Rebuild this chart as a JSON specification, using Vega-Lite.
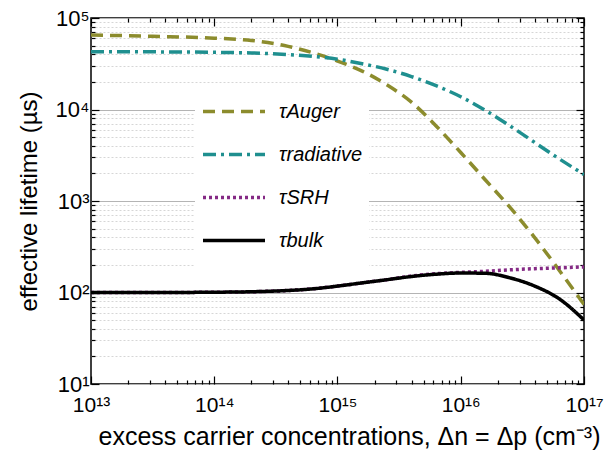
{
  "$schema": "https://vega.github.io/schema/vega-lite/v6.json",
  "width": 493,
  "height": 366,
  "autosize": "none",
  "padding": {"left": 91, "top": 18, "right": 21, "bottom": 73},
  "background": "white",
  "config": {
    "font": "Liberation Sans",
    "view": {"stroke": "black", "strokeWidth": 1.5},
    "axis": {"labelColor": "black", "titleColor": "black", "tickColor": "black", "domain": false, "titleFontWeight": "normal"}
  },
  "data": {
    "values": [
      {"n": 1e13, "tau": 65160, "series": "Auger"},
      {"n": 3.162e13, "tau": 63100, "series": "Auger"},
      {"n": 1e14, "tau": 60260, "series": "Auger"},
      {"n": 1.995e14, "tau": 56890, "series": "Auger"},
      {"n": 3.981e14, "tau": 48980, "series": "Auger"},
      {"n": 6.31e14, "tau": 41690, "series": "Auger"},
      {"n": 1e15, "tau": 33880, "series": "Auger"},
      {"n": 1.585e15, "tau": 26300, "series": "Auger"},
      {"n": 2.512e15, "tau": 18620, "series": "Auger"},
      {"n": 3.981e15, "tau": 12020, "series": "Auger"},
      {"n": 6.31e15, "tau": 6607, "series": "Auger"},
      {"n": 1e16, "tau": 3388, "series": "Auger"},
      {"n": 1.585e16, "tau": 1698, "series": "Auger"},
      {"n": 2.512e16, "tau": 851, "series": "Auger"},
      {"n": 3.981e16, "tau": 398, "series": "Auger"},
      {"n": 6.31e16, "tau": 174, "series": "Auger"},
      {"n": 1e17, "tau": 74, "series": "Auger"},
      {"n": 1e13, "tau": 42850, "series": "radiative"},
      {"n": 3.162e13, "tau": 42660, "series": "radiative"},
      {"n": 1e14, "tau": 42170, "series": "radiative"},
      {"n": 1.995e14, "tau": 41500, "series": "radiative"},
      {"n": 3.981e14, "tau": 39810, "series": "radiative"},
      {"n": 6.31e14, "tau": 38020, "series": "radiative"},
      {"n": 1e15, "tau": 35480, "series": "radiative"},
      {"n": 1.585e15, "tau": 31620, "series": "radiative"},
      {"n": 2.512e15, "tau": 27540, "series": "radiative"},
      {"n": 3.981e15, "tau": 22910, "series": "radiative"},
      {"n": 6.31e15, "tau": 18200, "series": "radiative"},
      {"n": 1e16, "tau": 13800, "series": "radiative"},
      {"n": 1.585e16, "tau": 9772, "series": "radiative"},
      {"n": 2.512e16, "tau": 6607, "series": "radiative"},
      {"n": 3.981e16, "tau": 4365, "series": "radiative"},
      {"n": 6.31e16, "tau": 2884, "series": "radiative"},
      {"n": 1e17, "tau": 1950, "series": "radiative"},
      {"n": 1e13, "tau": 100, "series": "SRH"},
      {"n": 3.162e13, "tau": 100, "series": "SRH"},
      {"n": 1e14, "tau": 100.7, "series": "SRH"},
      {"n": 1.995e14, "tau": 101.9, "series": "SRH"},
      {"n": 3.981e14, "tau": 105.2, "series": "SRH"},
      {"n": 6.31e14, "tau": 109.6, "series": "SRH"},
      {"n": 1e15, "tau": 117.5, "series": "SRH"},
      {"n": 1.585e15, "tau": 127.4, "series": "SRH"},
      {"n": 2.512e15, "tau": 138.2, "series": "SRH"},
      {"n": 3.981e15, "tau": 151.4, "series": "SRH"},
      {"n": 6.31e15, "tau": 160.3, "series": "SRH"},
      {"n": 1e16, "tau": 166, "series": "SRH"},
      {"n": 1.585e16, "tau": 170.6, "series": "SRH"},
      {"n": 2.512e16, "tau": 177, "series": "SRH"},
      {"n": 3.981e16, "tau": 182, "series": "SRH"},
      {"n": 6.31e16, "tau": 186, "series": "SRH"},
      {"n": 1e17, "tau": 190.5, "series": "SRH"},
      {"n": 1e13, "tau": 100, "series": "bulk"},
      {"n": 3.162e13, "tau": 100, "series": "bulk"},
      {"n": 1e14, "tau": 100.7, "series": "bulk"},
      {"n": 1.995e14, "tau": 101.9, "series": "bulk"},
      {"n": 3.981e14, "tau": 105.2, "series": "bulk"},
      {"n": 6.31e14, "tau": 109.6, "series": "bulk"},
      {"n": 1e15, "tau": 117.5, "series": "bulk"},
      {"n": 1.585e15, "tau": 127.4, "series": "bulk"},
      {"n": 2.512e15, "tau": 138, "series": "bulk"},
      {"n": 3.981e15, "tau": 149.6, "series": "bulk"},
      {"n": 6.31e15, "tau": 158.5, "series": "bulk"},
      {"n": 1e16, "tau": 163.3, "series": "bulk"},
      {"n": 1.585e16, "tau": 162.2, "series": "bulk"},
      {"n": 2.512e16, "tau": 144.5, "series": "bulk"},
      {"n": 3.981e16, "tau": 117.5, "series": "bulk"},
      {"n": 6.31e16, "tau": 85.1, "series": "bulk"},
      {"n": 1e17, "tau": 50.1, "series": "bulk"}
    ]
  },
  "resolve": {"axis": {"x": "independent", "y": "independent"}},
  "layer": [
    {
      "mark": {"type": "line", "strokeWidth": 3.5, "interpolate": "monotone", "clip": true},
      "encoding": {
        "x": {
          "field": "n", "type": "quantitative",
          "scale": {"type": "log", "domain": [1e13, 1e17], "nice": false},
          "axis": {
            "orient": "bottom",
            "values": [1e13, 2e13, 3e13, 4e13, 5e13, 6e13, 7e13, 8e13, 9e13, 1e14, 2e14, 3e14, 4e14, 5e14, 6e14, 7e14, 8e14, 9e14, 1e15, 2e15, 3e15, 4e15, 5e15, 6e15, 7e15, 8e15, 9e15, 1e16, 2e16, 3e16, 4e16, 5e16, 6e16, 7e16, 8e16, 9e16, 1e17],
            "labelExpr": "abs(log(datum.value)/LN10 - round(log(datum.value)/LN10)) < 0.001 ? '10¹' + substring('⁰¹²³⁴⁵⁶⁷⁸⁹', round(log(datum.value)/LN10) - 10, round(log(datum.value)/LN10) - 9) : ''",
            "labelFontSize": 21,
            "labelFlush": false,
            "labelOverlap": false,
            "labelBound": false,
            "labelPadding": 18,
            "tickSize": {"condition": {"test": "abs(log(datum.value)/LN10 - round(log(datum.value)/LN10)) < 0.001", "value": -8}, "value": -4},
            "tickWidth": 1.2,
            "grid": false,
            "title": "excess carrier concentrations,  Δn = Δp (cm⁻³)",
            "titleFontSize": 25,
            "titleX": 258,
            "titlePadding": 5
          }
        },
        "y": {
          "field": "tau", "type": "quantitative",
          "scale": {"type": "log", "domain": [10, 100000], "nice": false},
          "axis": {
            "orient": "left",
            "values": [10, 20, 30, 40, 50, 60, 70, 80, 90, 100, 200, 300, 400, 500, 600, 700, 800, 900, 1000, 2000, 3000, 4000, 5000, 6000, 7000, 8000, 9000, 10000, 20000, 30000, 40000, 50000, 60000, 70000, 80000, 90000, 100000],
            "labelExpr": "abs(log(datum.value)/LN10 - round(log(datum.value)/LN10)) < 0.001 ? '10' + substring('⁰¹²³⁴⁵⁶⁷⁸⁹', round(log(datum.value)/LN10), round(log(datum.value)/LN10) + 1) : ''",
            "labelFontSize": 22,
            "labelFlush": false,
            "labelOverlap": false,
            "labelBound": false,
            "labelPadding": 10,
            "tickSize": {"condition": {"test": "abs(log(datum.value)/LN10 - round(log(datum.value)/LN10)) < 0.001", "value": -8}, "value": -4},
            "tickWidth": 1.2,
            "grid": true,
            "gridColor": {"condition": {"test": "abs(log(datum.value)/LN10 - round(log(datum.value)/LN10)) < 0.001", "value": "#b4b4b4"}, "value": "#d6d6d6"},
            "gridDash": {"condition": {"test": "abs(log(datum.value)/LN10 - round(log(datum.value)/LN10)) < 0.001", "value": []}, "value": [2, 2]},
            "gridWidth": 1,
            "title": "effective lifetime (µs)",
            "titleFontSize": 24,
            "titlePadding": 14
          }
        },
        "color": {
          "field": "series", "type": "nominal",
          "scale": {"domain": ["Auger", "radiative", "SRH", "bulk"], "range": ["#8c8c2d", "#1f8f8f", "#852a85", "#000000"]},
          "legend": {
            "orient": "none",
            "legendX": 104,
            "legendY": 66,
            "title": null,
            "fillColor": "white",
            "padding": 6,
            "symbolType": "stroke",
            "symbolSize": 3844,
            "symbolStrokeWidth": 3.5,
            "clipHeight": 43,
            "rowPadding": 0,
            "labelExpr": "'τ' + datum.label",
            "labelFontSize": 20,
            "labelFontStyle": "italic",
            "labelOffset": 12,
            "labelColor": "black"
          }
        },
        "strokeDash": {
          "field": "series", "type": "nominal",
          "scale": {"domain": ["Auger", "radiative", "SRH", "bulk"], "range": [[12, 7], [13, 5, 3, 5], [3, 3], [1, 0]]},
          "legend": {
            "orient": "none",
            "legendX": 104,
            "legendY": 66,
            "title": null,
            "fillColor": "white",
            "padding": 6,
            "symbolType": "stroke",
            "symbolSize": 3844,
            "symbolStrokeWidth": 3.5,
            "clipHeight": 43,
            "rowPadding": 0,
            "labelExpr": "'τ' + datum.label",
            "labelFontSize": 20,
            "labelFontStyle": "italic",
            "labelOffset": 12,
            "labelColor": "black"
          }
        },
        "order": {"field": "n", "type": "quantitative"}
      }
    },
    {
      "mark": {"type": "point", "opacity": 0},
      "encoding": {
        "x": {
          "field": "n", "type": "quantitative",
          "scale": {"type": "log", "domain": [1e13, 1e17], "nice": false},
          "axis": {
            "orient": "top",
            "values": [1e13, 2e13, 3e13, 4e13, 5e13, 6e13, 7e13, 8e13, 9e13, 1e14, 2e14, 3e14, 4e14, 5e14, 6e14, 7e14, 8e14, 9e14, 1e15, 2e15, 3e15, 4e15, 5e15, 6e15, 7e15, 8e15, 9e15, 1e16, 2e16, 3e16, 4e16, 5e16, 6e16, 7e16, 8e16, 9e16, 1e17],
            "labels": false,
            "title": null,
            "grid": false,
            "tickSize": {"condition": {"test": "abs(log(datum.value)/LN10 - round(log(datum.value)/LN10)) < 0.001", "value": -8}, "value": -4},
            "tickWidth": 1.2
          }
        },
        "y": {
          "field": "tau", "type": "quantitative",
          "scale": {"type": "log", "domain": [10, 100000], "nice": false},
          "axis": {
            "orient": "right",
            "values": [10, 20, 30, 40, 50, 60, 70, 80, 90, 100, 200, 300, 400, 500, 600, 700, 800, 900, 1000, 2000, 3000, 4000, 5000, 6000, 7000, 8000, 9000, 10000, 20000, 30000, 40000, 50000, 60000, 70000, 80000, 90000, 100000],
            "labels": false,
            "title": null,
            "grid": false,
            "tickSize": {"condition": {"test": "abs(log(datum.value)/LN10 - round(log(datum.value)/LN10)) < 0.001", "value": -8}, "value": -4},
            "tickWidth": 1.2
          }
        }
      }
    }
  ]
}
